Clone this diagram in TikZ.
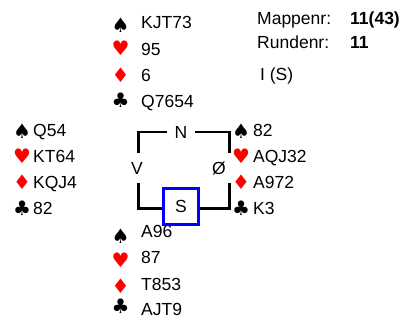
\documentclass[tikz,border=0pt]{standalone}
\usepackage{fontspec}
\setmainfont{Liberation Sans}
\newfontfamily\suitfont{DejaVu Sans}
\usetikzlibrary{positioning}
\definecolor{suitred}{RGB}{255,0,0}
\definecolor{dealerblue}{RGB}{0,0,255}
\tikzset{
    suit/.style =   {font=\suitfont\fontsize{20}{20}\selectfont,
                    inner sep=0pt,
                    text=black},
    redsuit/.style = {suit,
                    text=suitred},
    holding/.style = {font=\fontsize{17.5}{20}\selectfont,
                    anchor=base west,
                    inner sep=0pt,
                    text=black},
    info/.style =   {holding},
    seat/.style =   {font=\fontsize{17.5}{20}\selectfont,
                    inner sep=0pt,
                    text=black,
                    minimum width=28pt,
                    minimum height=30pt},
    dealer/.style = {rectangle,
                    draw=dealerblue,
                    line width=3pt,
                    font=\fontsize{17.5}{20}\selectfont,
                    inner sep=0pt,
                    minimum width=35pt,
                    minimum height=36pt},
    frame/.style =  {draw=black,
                    line width=2.6pt},
    x=1pt, y=-1pt}

\begin{document}
\begin{tikzpicture}
    \useasboundingbox (0,0) rectangle (403,320);

    % board info
    \node[info]             (mapLabel)  at (257,25)     {Mappenr:};
    \node[info,font=\fontsize{17.5}{20}\selectfont\bfseries] (mapValue) at (350,25) {11(43)};
    \node[info]             (rndLabel)  at (257,49)     {Rundenr:};
    \node[info,font=\fontsize{17.5}{20}\selectfont\bfseries] (rndValue) at (350,49) {11};
    \node[info]             (vuln)      at (260,81)     {I (S)};

    % north
    \node[suit]     (NS) at (120.5,25)   {♠};
    \node[redsuit]  (NH) at (120.5,48.5) {♥};
    \node[redsuit]  (ND) at (120.5,75)   {♦};
    \node[suit]     (NC) at (120.5,100)  {♣};
    \node[holding]  (NSh) at (141,29)    {KJT73};
    \node[holding]  (NHh) at (141,55.5)  {95};
    \node[holding]  (NDh) at (141,82)    {6};
    \node[holding]  (NCh) at (141,108)   {Q7654};

    % west
    \node[suit]     (WS) at (22,131)     {♠};
    \node[redsuit]  (WH) at (22,156.5)   {♥};
    \node[redsuit]  (WD) at (22,182.5)   {♦};
    \node[suit]     (WC) at (22,208)     {♣};
    \node[holding]  (WSh) at (33,137)    {Q54};
    \node[holding]  (WHh) at (33,162.5)  {KT64};
    \node[holding]  (WDh) at (33,188.5)  {KQJ4};
    \node[holding]  (WCh) at (33,214)    {82};

    % east
    \node[suit]     (ES) at (241,131)    {♠};
    \node[redsuit]  (EH) at (241,156.5)  {♥};
    \node[redsuit]  (ED) at (241,182.5)  {♦};
    \node[suit]     (EC) at (241,208)    {♣};
    \node[holding]  (ESh) at (253,137)   {82};
    \node[holding]  (EHh) at (253,162.5) {AQJ32};
    \node[holding]  (EDh) at (253,188.5) {A972};
    \node[holding]  (ECh) at (253,214)   {K3};

    % south
    \node[suit]     (SS) at (120.5,236.5) {♠};
    \node[redsuit]  (SH) at (120.5,260)   {♥};
    \node[redsuit]  (SD) at (120.5,286.5) {♦};
    \node[suit]     (SC) at (120.5,306.5) {♣};
    \node[holding]  (SSh) at (141,237)   {A96};
    \node[holding]  (SHh) at (141,263.5) {87};
    \node[holding]  (SDh) at (141,290)   {T853};
    \node[holding]  (SCh) at (141,315)   {AJT9};

    % table
    \coordinate (nw) at (138.5,132);
    \coordinate (ne) at (229.5,132);
    \coordinate (sw) at (138.5,208.5);
    \coordinate (se) at (229.5,208.5);
    \node[seat]     (N) at (181,132)     {N};
    \node[seat]     (V) at (137,168)     {V};
    \node[seat]     (O) at (219,168)     {Ø};
    \node[dealer]   (S) at (181,206.5)   {S};

    \draw[frame] (N.west) -| (nw |- V.north);
    \draw[frame] (N.east) -| (ne |- V.north);
    \draw[frame] (nw |- V.south) -- (sw) -- (sw -| S.west);
    \draw[frame] (ne |- V.south) -- (se) -- (se -| S.east);
\end{tikzpicture}
\end{document}
